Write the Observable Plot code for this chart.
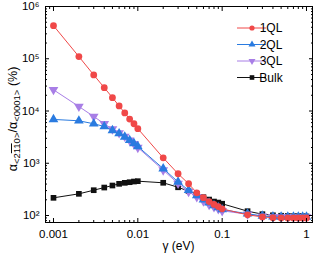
<!DOCTYPE html>
<html>
<head>
<meta charset="utf-8">
<script src="https://cdn.jsdelivr.net/npm/d3@7"></script>
<script src="https://cdn.jsdelivr.net/npm/@observablehq/plot@0.6"></script>
<style>
  html, body { margin: 0; padding: 0; background: #fff; }
  #chart { position: relative; width: 317px; height: 254px; }
</style>
</head>
<body>
<div id="chart"></div>
<script>
const gamma = [0.001,0.002,0.003,0.004,0.005,0.006,0.007,0.008,0.009,0.01,
               0.02,0.03,0.04,0.05,0.06,0.07,0.08,0.09,0.1,
               0.2,0.3,0.4,0.5,0.6,0.7,0.8,0.9,1.0];
const ql1 = [430000,110000,49000,28000,18000,12500,9200,7000,5700,4600,
             1270,630,405,272,219,185,163,148,134,
             103,94,91,90,90,90,90,90,90];
const ql2 = [6900,6500,5700,5050,4250,3700,3200,2750,2400,2100,
             790,440,305,243,200,175,156,143,130,
             108,98,95,94,94,94,94,94,94];
const ql3 = [25500,12200,7850,5700,4500,3800,3250,2750,2350,2000,
             740,410,285,228,188,162,146,134,123,
             106,97,94,93,93,93,93,93,93];
const bulk = [218,260,305,343,375,404,422,434,447,454,
              423,347,292,260,224,202,185,177,168,
              121,106,101,99,98,97,97,96,96];

const seriesNames = ["1QL","2QL","3QL","Bulk"];
const seriesColors = ["#f04848","#2a7be0","#a87ee6","#111111"];

const xMajor = [0.001,0.01,0.1,1];
const xMajorLabels = ["0.001","0.01","0.1","1"];
const xMinor = [0.0009,0.002,0.003,0.004,0.005,0.006,0.007,0.008,0.009,
                0.02,0.03,0.04,0.05,0.06,0.07,0.08,0.09,
                0.2,0.3,0.4,0.5,0.6,0.7,0.8,0.9];
const yMajor = [1e2,1e3,1e4,1e5,1e6];
const yMajorLabels = ["10\u00B2","10\u00B3","10\u2074","10\u2075","10\u2076"];
const yMinor = [80,90,200,300,400,500,600,700,800,900,
                2000,3000,4000,5000,6000,7000,8000,9000,
                20000,30000,40000,50000,60000,70000,80000,90000,
                200000,300000,400000,500000,600000,700000,800000,900000];

const downTriangle = {
  draw(context, size) {
    const y = -Math.sqrt(size / (Math.sqrt(3) * 3));
    context.moveTo(0, -y * 2);
    context.lineTo(-Math.sqrt(3) * y, y);
    context.lineTo(Math.sqrt(3) * y, y);
    context.closePath();
  }
};
const squareSym = {
  draw(context, size) {
    const w = Math.sqrt(size);
    context.rect(-w / 2, -w / 2, w, w);
  }
};
const seriesSymbols = ["circle", "triangle", downTriangle, squareSym];
const seriesR = [3.4, 3.6, 3.6, 3.2];

const allValues = [ql1, ql2, ql3, bulk];
const table = seriesNames.map((name, i) =>
  gamma.map((g, j) => ({series: name, x: g, y: allValues[i][j]})));

const drawOrder = [3, 2, 1, 0];
const dataMarks = [];
for (const i of drawOrder) {
  dataMarks.push(Plot.line(table[i], {x: "x", y: "y", stroke: seriesColors[i], strokeWidth: 1}));
  dataMarks.push(Plot.dot(table[i], {x: "x", y: "y", fill: seriesColors[i], stroke: "none", symbol: seriesSymbols[i], r: seriesR[i]}));
}

const chart = Plot.plot({
  width: 317,
  height: 254,
  marginLeft: 45,
  marginRight: 5,
  marginTop: 6,
  marginBottom: 32,
  style: {fontFamily: "'Liberation Sans', Arial, sans-serif", fontSize: "11.5px", background: "white", color: "black"},
  x: {type: "log", domain: [0.000804, 1.178], axis: null},
  y: {type: "log", domain: [73.5, 1e6], axis: null},
  marks: [
    ...dataMarks,
    Plot.frame({stroke: "black", strokeWidth: 1}),
    Plot.axisX(xMajor, {anchor: "bottom", tickSize: 0, tickPadding: 7, tickFormat: (d) => xMajorLabels[xMajor.indexOf(d)], label: null, fill: "black"}),
    Plot.axisX(xMajor, {anchor: "bottom", tickSize: -4, fill: "none", stroke: "black"}),
    Plot.axisX(xMinor, {anchor: "bottom", tickSize: -2, fill: "none", stroke: "black"}),
    Plot.axisX(xMajor, {anchor: "top", tickSize: -4, fill: "none", stroke: "black"}),
    Plot.axisX(xMinor, {anchor: "top", tickSize: -2, fill: "none", stroke: "black"}),
    Plot.axisY(yMajor, {anchor: "left", tickSize: 0, tickPadding: 6, tickFormat: d => yMajorLabels[yMajor.indexOf(d)], label: null, fill: "black"}),
    Plot.axisY(yMajor, {anchor: "left", tickSize: -4, fill: "none", stroke: "black"}),
    Plot.axisY(yMinor, {anchor: "left", tickSize: -2, fill: "none", stroke: "black"}),
    Plot.axisY(yMajor, {anchor: "right", tickSize: -4, fill: "none", stroke: "black"}),
    Plot.axisY(yMinor, {anchor: "right", tickSize: -2, fill: "none", stroke: "black"})
  ]
});
document.getElementById("chart").appendChild(chart);

const svg = d3.select(chart);
// x label
svg.append("text")
  .attr("x", 178.5).attr("y", 250)
  .attr("text-anchor", "middle")
  .attr("font-size", 12)
  .attr("fill", "black")
  .text("\u03B3 (eV)");

// y label with subscripts
const yl = svg.append("text")
  .attr("transform", "translate(17,119) rotate(-90)")
  .attr("text-anchor", "middle")
  .attr("font-size", 12.5)
  .attr("fill", "black");
yl.append("tspan").text("\u03B1");
yl.append("tspan").attr("font-size", 9.5).attr("dy", 3).text("<2");
yl.append("tspan").attr("font-size", 9.5).attr("text-decoration", "overline").style("text-decoration", "overline").text("11");
yl.append("tspan").attr("font-size", 9.5).text("0>");
yl.append("tspan").attr("dy", -3).text("/\u03B1");
yl.append("tspan").attr("font-size", 9.5).attr("dy", 3).text("<0001>");
yl.append("tspan").attr("dy", -3).text(" (%)");

// legend
const lg = svg.append("g");
seriesNames.forEach((name, i) => {
  const yy = 28 + i * 16.5;
  lg.append("line").attr("x1", 237).attr("x2", 266).attr("y1", yy).attr("y2", yy)
    .attr("stroke", seriesColors[i]).attr("stroke-width", 1);
  const sym = typeof seriesSymbols[i] === "string"
    ? (seriesSymbols[i] === "circle" ? d3.symbolCircle : d3.symbolTriangle)
    : seriesSymbols[i];
  lg.append("path").attr("transform", `translate(252,${yy})`)
    .attr("d", d3.symbol(sym, Math.PI * 2.6 * 2.6)())
    .attr("fill", seriesColors[i]);
  lg.append("text").attr("x", 271).attr("y", yy + 4).attr("font-size", 12)
    .attr("fill", "black").text(name);
});
</script>
</body>
</html>
